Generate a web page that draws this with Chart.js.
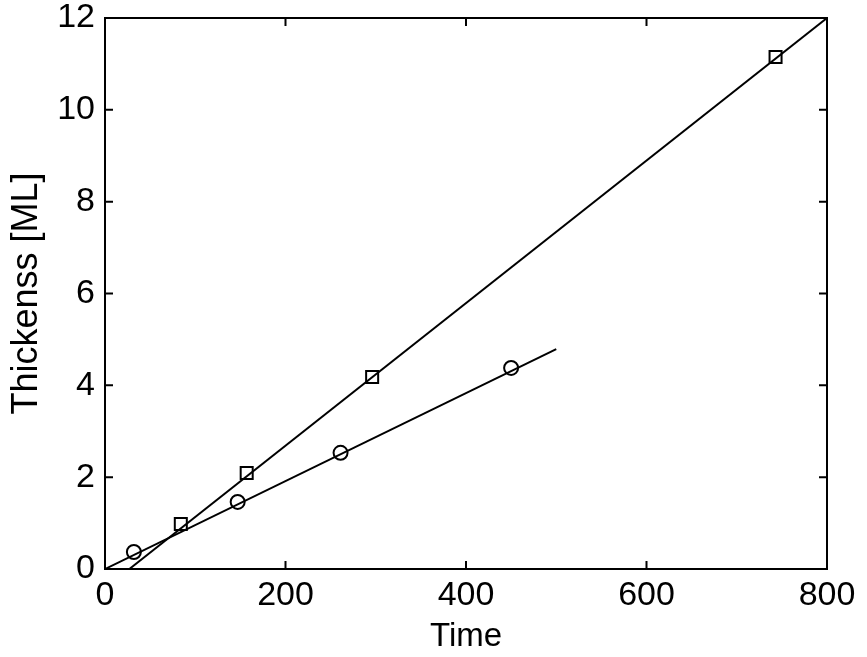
<!DOCTYPE html>
<html lang="en">
<head>
    <meta charset="UTF-8">
    <title>Thickness vs Time</title>
    <style>
        body {
            margin: 0;
            background: #ffffff;
        }
        canvas {
            display: block;
        }
    </style>
    <script src="https://cdn.jsdelivr.net/npm/chart.js"></script>
</head>
<body>
<canvas id="thickChart" width="867" height="657"></canvas>

<script>
    const squareTime = [84, 157, 296, 743];
    const squareThick = [0.98, 2.09, 4.18, 11.15];
    const circleTime = [32, 147, 261, 450];
    const circleThick = [0.37, 1.46, 2.53, 4.38];

    // linear fits drawn through them
    const squareFitTime = [27, 800];
    const squareFitThick = [0, 12];
    const circleFitTime = [0, 500];
    const circleFitThick = [0, 4.79];

    const xTicks = [0, 200, 400, 600, 800];
    const yTicks = [0, 2, 4, 6, 8, 10, 12];

    function toPoints(xs, ys) {
        return xs.map((x, i) => ({x: x, y: ys[i]}));
    }

    // matlab style box with inward ticks on every side
    const boxPlugin = {
        id: 'box',
        afterDatasetsDraw(chart) {
            const ctx = chart.ctx;
            const area = chart.chartArea;
            const xs = chart.scales.x;
            const ys = chart.scales.y;
            const len = 8;
            ctx.save();
            ctx.strokeStyle = '#000';
            ctx.lineWidth = 2;
            ctx.beginPath();
            xTicks.forEach(v => {
                const px = xs.getPixelForValue(v);
                ctx.moveTo(px, area.bottom);
                ctx.lineTo(px, area.bottom - len);
                ctx.moveTo(px, area.top);
                ctx.lineTo(px, area.top + len);
            });
            yTicks.forEach(v => {
                const py = ys.getPixelForValue(v);
                ctx.moveTo(area.left, py);
                ctx.lineTo(area.left + len, py);
                ctx.moveTo(area.right, py);
                ctx.lineTo(area.right - len, py);
            });
            ctx.stroke();
            ctx.strokeRect(area.left, area.top, area.right - area.left, area.bottom - area.top);
            ctx.restore();
        }
    };

    const ctx = document.getElementById('thickChart').getContext('2d');
    new Chart(ctx, {
        type: 'scatter',
        data: {
            datasets: [
                {
                    data: toPoints(squareFitTime, squareFitThick),
                    showLine: true,
                    borderColor: '#000',
                    borderWidth: 2,
                    pointRadius: 0
                },
                {
                    data: toPoints(circleFitTime, circleFitThick),
                    showLine: true,
                    borderColor: '#000',
                    borderWidth: 2,
                    pointRadius: 0
                },
                {
                    data: toPoints(squareTime, squareThick),
                    pointStyle: 'rect',
                    pointRadius: 8.5,
                    pointBackgroundColor: '#fff',
                    pointBorderColor: '#000',
                    pointBorderWidth: 2
                },
                {
                    data: toPoints(circleTime, circleThick),
                    pointStyle: 'circle',
                    pointRadius: 7,
                    pointBackgroundColor: '#fff',
                    pointBorderColor: '#000',
                    pointBorderWidth: 2
                }
            ]
        },
        options: {
            responsive: false,
            animation: false,
            layout: {
                padding: {top: 18, right: 40, left: 0, bottom: 0}
            },
            plugins: {
                legend: {display: false},
                tooltip: {enabled: false}
            },
            scales: {
                x: {
                    type: 'linear',
                    min: 0,
                    max: 800,
                    afterBuildTicks: scale => {
                        scale.ticks = xTicks.map(v => ({value: v}));
                    },
                    afterFit: scale => {
                        scale.height = 88;
                    },
                    grid: {display: false, drawTicks: false, tickLength: 0},
                    border: {display: false},
                    ticks: {
                        color: '#000',
                        padding: 6,
                        font: {family: 'Liberation Sans', size: 34}
                    },
                    title: {
                        display: true,
                        text: 'Time',
                        color: '#000',
                        padding: {top: 0, bottom: 0},
                        font: {family: 'Liberation Sans', size: 33}
                    }
                },
                y: {
                    type: 'linear',
                    min: 0,
                    max: 12,
                    afterBuildTicks: scale => {
                        scale.ticks = yTicks.map(v => ({value: v}));
                    },
                    afterFit: scale => {
                        scale.width = 105;
                        scale.paddingTop = 0;
                        scale.paddingBottom = 0;
                    },
                    grid: {display: false, drawTicks: false, tickLength: 0},
                    border: {display: false},
                    ticks: {
                        color: '#000',
                        padding: 10,
                        font: {family: 'Liberation Sans', size: 34}
                    },
                    title: {
                        display: true,
                        text: 'Thickenss [ML]',
                        color: '#000',
                        padding: {top: 5, bottom: 0},
                        font: {family: 'Liberation Sans', size: 36}
                    }
                }
            }
        },
        plugins: [boxPlugin]
    });
</script>
</body>
</html>
